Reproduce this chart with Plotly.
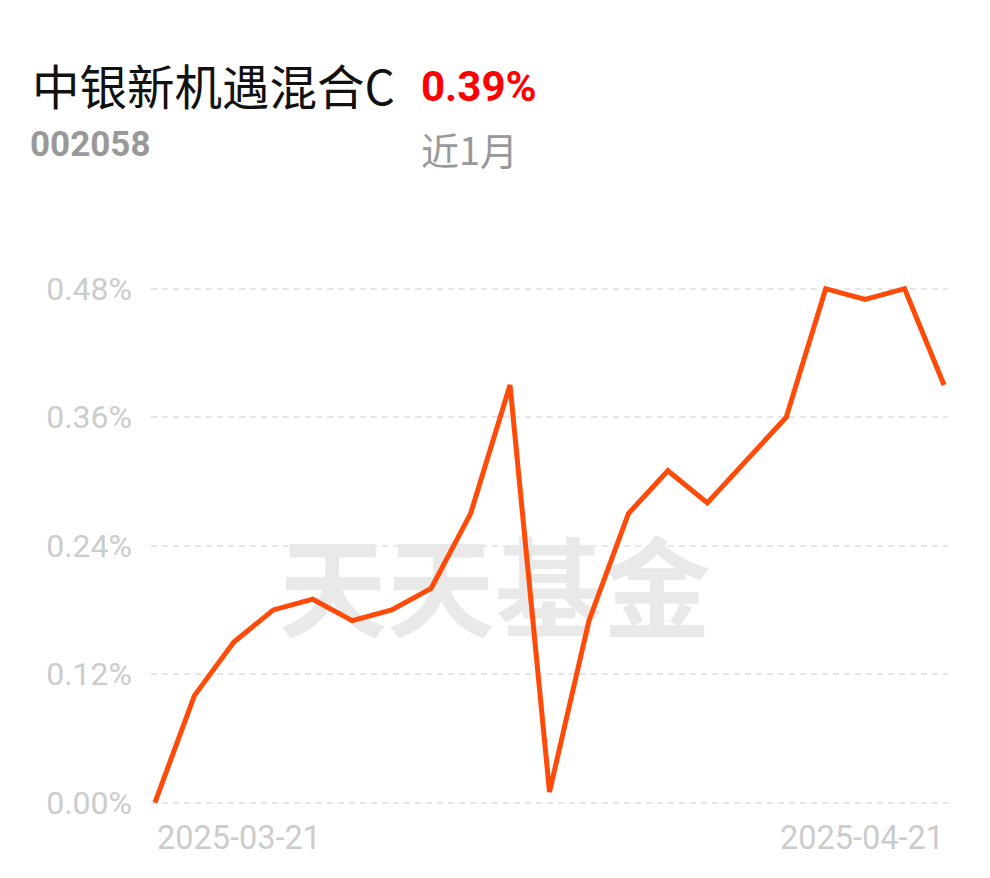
import plotly.graph_objects as go

dates = ["2025-03-21", "2025-03-24", "2025-03-25", "2025-03-26", "2025-03-27", "2025-03-28",
         "2025-03-31", "2025-04-01", "2025-04-02", "2025-04-03", "2025-04-07", "2025-04-08",
         "2025-04-09", "2025-04-10", "2025-04-11", "2025-04-14", "2025-04-15", "2025-04-16",
         "2025-04-17", "2025-04-18", "2025-04-21"]
returns = [0.00, 0.10, 0.15, 0.18, 0.19, 0.17, 0.18, 0.20, 0.27, 0.39, 0.01, 0.17,
           0.27, 0.31, 0.28, 0.32, 0.36, 0.48, 0.47, 0.48, 0.39]
y_ticks = [0.00, 0.12, 0.24, 0.36, 0.48]
fund_name = "中银新机遇混合C"
fund_code = "002058"
period_label = "近1月"
period_return = "0.39%"
watermark = "天天基金"

idx = list(range(len(dates)))

W, H = 990, 878
L, R, T, B = 143, 50, 270, 78

fig = go.Figure()
fig.add_trace(go.Scatter(
    x=[8.62], y=[0.187], mode="text", text=[watermark],
    textfont=dict(family="Noto Sans CJK SC", size=108, color="#e9e9e9", weight="bold"),
    hoverinfo="skip", showlegend=False))
fig.add_trace(go.Scatter(
    x=idx, y=returns, mode="lines",
    line=dict(color="#ff4a08", width=5, shape="linear"),
    showlegend=False))

fig.update_layout(
    width=W, height=H,
    margin=dict(l=L, r=R, t=T, b=B),
    paper_bgcolor="white", plot_bgcolor="white",
    xaxis=dict(range=[-0.1, len(dates) - 0.9], showgrid=False, zeroline=False,
               showticklabels=False, showline=False, fixedrange=True),
    yaxis=dict(range=[-0.005, 0.49], tickvals=y_ticks,
               ticktext=[f"{v:.2f}%" for v in y_ticks],
               showgrid=True, gridcolor="#e6e6e6", griddash="6px,5px", gridwidth=2,
               zeroline=False, showline=False, ticks="",
               tickfont=dict(family="Roboto", size=32, color="#cccccc"),
               ticklabelstandoff=18),
    font=dict(family="Roboto"),
)

ann = [
    dict(text=fund_name, x=22, y=77, xanchor="left", yanchor="middle",
         font=dict(family="Noto Sans CJK SC", size=47.5, color="#111111")),
    dict(text=period_return, x=411, y=78, xanchor="left", yanchor="middle",
         font=dict(family="Roboto", size=42, color="#ff0000", weight="bold")),
    dict(text=fund_code, x=20, y=137, xanchor="left", yanchor="middle",
         font=dict(family="Roboto", size=35, color="#999999", weight="bold")),
    dict(text=period_label, x=411, y=140, xanchor="left", yanchor="middle",
         font=dict(family="Noto Sans CJK SC", size=38, color="#999999")),
]
for a in ann:
    a.update(xref="paper", yref="paper", showarrow=False)
    a["x"] = (a["x"] - L) / (W - L - R)
    a["y"] = 1 - (a["y"] - T) / (H - T - B)

fig.update_layout(annotations=ann)
fig.add_annotation(text=dates[0], x=0, y=0, xref="x", yref="paper", yanchor="top",
                   xanchor="left", yshift=-9, xshift=0, showarrow=False,
                   font=dict(family="Roboto", size=32.5, color="#cccccc"))
fig.add_annotation(text=dates[-1], x=len(dates) - 1, y=0, xref="x", yref="paper", yanchor="top",
                   xanchor="right", yshift=-9, xshift=2, showarrow=False,
                   font=dict(family="Roboto", size=32.5, color="#cccccc"))

fig.write_html("out.html")
